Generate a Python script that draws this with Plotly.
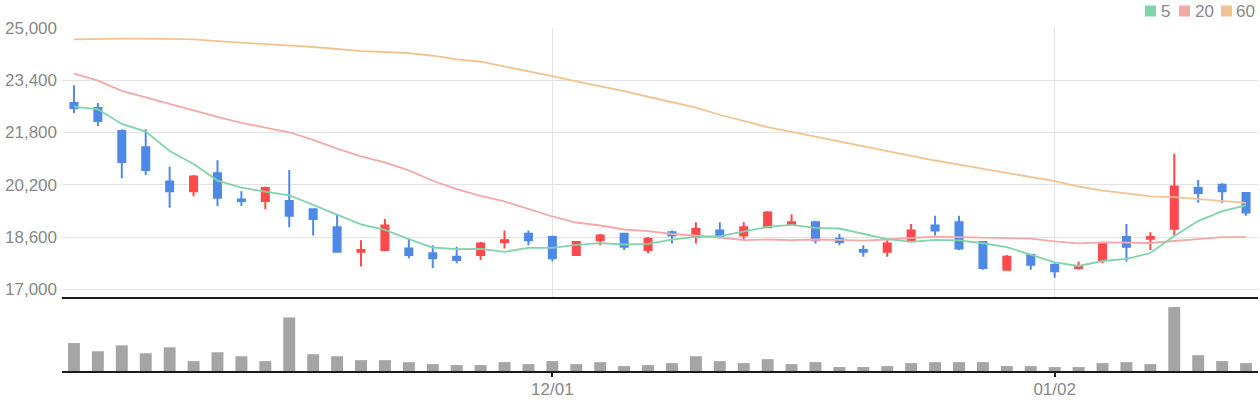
import plotly.graph_objects as go

# ---------------- data ----------------
dates = [
    "2022-11-03", "2022-11-04", "2022-11-07", "2022-11-08", "2022-11-09", "2022-11-10", "2022-11-11",
    "2022-11-14", "2022-11-15", "2022-11-16", "2022-11-17", "2022-11-18", "2022-11-21", "2022-11-22",
    "2022-11-23", "2022-11-24", "2022-11-25", "2022-11-28", "2022-11-29", "2022-11-30",
    "2022-12-01", "2022-12-02", "2022-12-05", "2022-12-06", "2022-12-07", "2022-12-08", "2022-12-09",
    "2022-12-12", "2022-12-13", "2022-12-14", "2022-12-15", "2022-12-16", "2022-12-19", "2022-12-20",
    "2022-12-21", "2022-12-22", "2022-12-23", "2022-12-26", "2022-12-27", "2022-12-28", "2022-12-29",
    "2023-01-02", "2023-01-03", "2023-01-04", "2023-01-05", "2023-01-06", "2023-01-09", "2023-01-10",
    "2023-01-11", "2023-01-12",
]

opens = [22700, 22550, 21850, 21350, 20300, 20000, 20550, 19750, 19700, 19700,
         19450, 18900, 18150, 18200, 18250, 18100, 18000, 18050, 18450, 18700,
         18600, 18050, 18500, 18700, 18200, 18750, 18600, 18800, 18650, 18900,
         19000, 19050, 18550, 18200, 18150, 18500, 18950, 19050, 18450, 17600,
         18050, 17750, 17650, 17900, 18600, 18550, 18850, 20100, 20200, 19950]
highs = [23250, 22700, 21900, 21900, 20750, 20500, 20950, 20000, 20150, 20650,
         19450, 19300, 18500, 19150, 18550, 18350, 18300, 18450, 18800, 18800,
         18650, 18450, 18700, 18700, 18600, 18800, 19050, 19050, 19050, 19400,
         19300, 19100, 18700, 18350, 18500, 19000, 19250, 19250, 18450, 18050,
         18050, 17800, 17850, 18450, 19000, 18750, 21150, 20350, 20250, 19950]
lows = [22400, 22000, 20400, 20500, 19500, 19850, 19550, 19550, 19450, 18900,
        18650, 18150, 17700, 18200, 17950, 17650, 17800, 17900, 18250, 18350,
        17850, 18050, 18350, 18200, 18100, 18400, 18400, 18550, 18500, 18900,
        18950, 18400, 18350, 18000, 18000, 18500, 18650, 18200, 17600, 17600,
        17600, 17350, 17600, 17800, 17850, 18200, 18650, 19650, 19650, 19250]
closes = [22550, 22150, 20900, 20650, 20000, 20450, 19800, 19700, 20100, 19250,
          19150, 18150, 18200, 18950, 18050, 17950, 17900, 18400, 18500, 18500,
          17950, 18450, 18650, 18300, 18550, 18650, 18850, 18600, 18900, 19350,
          19050, 18500, 18450, 18150, 18400, 18800, 18800, 18250, 17650, 18000,
          17750, 17550, 17700, 18400, 18300, 18600, 20150, 19950, 20000, 19350]

volumes = [85000, 60000, 78000, 54000, 72000, 30000, 57000, 45000, 30000, 163000,
           51000, 45000, 33000, 33000, 27000, 21000, 18000, 18000, 27000, 21000,
           30000, 21000, 27000, 15000, 18000, 24000, 45000, 30000, 24000, 36000,
           21000, 27000, 12000, 12000, 15000, 24000, 27000, 27000, 27000, 15000,
           15000, 12000, 12000, 24000, 27000, 21000, 195000, 48000, 30000, 24000]

ma5 = [22594, 22512, 22063, 21828, 21236, 20838, 20328, 20113, 19991, 19879,
       19583, 19276, 18990, 18820, 18534, 18279, 18228, 18238, 18146, 18268,
       18268, 18360, 18411, 18371, 18391, 18520, 18606, 18626, 18769, 18912,
       18974, 18882, 18861, 18698, 18534, 18452, 18514, 18500, 18410, 18294,
       18060, 17826, 17714, 17866, 17928, 18111, 18631, 19089, 19395, 19568]
ma20 = [23604, 23390, 23073, 22869, 22665, 22471, 22277, 22094, 21951, 21808,
        21573, 21308, 21071, 20885, 20639, 20323, 20067, 19863, 19689, 19464,
        19229, 19045, 18953, 18831, 18779, 18693, 18636, 18585, 18503, 18524,
        18503, 18524, 18514, 18493, 18524, 18575, 18613, 18597, 18580, 18549,
        18549, 18468, 18407, 18437, 18417, 18417, 18478, 18539, 18600, 18600]
ma60 = [24651, 24669, 24672, 24672, 24669, 24651, 24596, 24556, 24519, 24473,
        24418, 24357, 24295, 24265, 24228, 24151, 24038, 23967, 23823, 23673,
        23523, 23367, 23226, 23070, 22895, 22730, 22561, 22344, 22150, 21964,
        21820, 21672, 21528, 21384, 21216, 21078, 20943, 20815, 20689, 20563,
        20438, 20309, 20147, 20024, 19935, 19843, 19822, 19761, 19708, 19647]

price_ticks = [17000, 18600, 20200, 21800, 23400, 25000]
x_tick_dates = ["2022-12-01", "2023-01-02"]
x_tick_labels = ["12/01", "01/02"]
legend_names = ["5", "20", "60"]

# ---------------- style ----------------
MA_COLORS = ["#80d4a9", "#f3a9a8", "#f1c390"]
UP = "#ff4a4d"
DOWN = "#4f89e6"
GRID = "#e3e3e3"
TXT = "#888888"
AXIS = "#1a1a1a"
FONT = "Liberation Sans, Arial, sans-serif"

fig = go.Figure()

for vals, col in zip([ma60, ma20, ma5], [MA_COLORS[2], MA_COLORS[1], MA_COLORS[0]]):
    fig.add_trace(go.Scatter(x=dates, y=vals, mode="lines",
                             line=dict(color=col, width=1.8),
                             showlegend=False, hoverinfo="skip",
                             xaxis="x", yaxis="y"))

fig.add_trace(go.Candlestick(
    x=dates, open=opens, high=highs, low=lows, close=closes,
    increasing=dict(line=dict(color=UP, width=2), fillcolor=UP),
    decreasing=dict(line=dict(color=DOWN, width=2), fillcolor=DOWN),
    whiskerwidth=0, showlegend=False, xaxis="x", yaxis="y"))

fig.add_trace(go.Bar(x=dates, y=volumes, marker=dict(color="#a5a5a5", line=dict(width=0)),
                     showlegend=False, xaxis="x2", yaxis="y2"))

PLOT_TOP, PLOT_BOTTOM, MAIN_BOTTOM = 28, 371, 297
H = 400
plot_h = PLOT_BOTTOM - PLOT_TOP
split = (PLOT_BOTTOM - MAIN_BOTTOM) / plot_h

fig.update_layout(
    width=1260, height=H,
    margin=dict(l=62, r=2, t=PLOT_TOP, b=H - PLOT_BOTTOM, pad=0, autoexpand=False),
    paper_bgcolor="white", plot_bgcolor="white",
    font=dict(family=FONT, size=17, color=TXT),
    boxgap=0.58, bargap=0.5,
    hovermode=False,
    xaxis=dict(domain=[0, 1], anchor="y", type="category", automargin=False,
               categoryorder="array", categoryarray=dates,
               range=[-0.5, len(dates) - 0.5],
               tickvals=x_tick_dates, showticklabels=False, ticks="",
               showgrid=True, gridcolor=GRID, gridwidth=1,
               showline=True, linecolor=AXIS, linewidth=2,
               zeroline=False, rangeslider=dict(visible=False)),
    yaxis=dict(domain=[split, 1], anchor="x", automargin=False,
               range=[16764, 25000], tickvals=price_ticks, tickformat=",",
               showgrid=True, gridcolor=GRID, gridwidth=1, zeroline=False,
               showline=False, ticks="", ticklabelstandoff=4,
               tickfont=dict(size=17, color=TXT)),
    xaxis2=dict(domain=[0, 1], anchor="y2", type="category", matches="x", automargin=False,
                categoryorder="array", categoryarray=dates,
                tickvals=x_tick_dates, ticktext=x_tick_labels,
                ticks="outside", ticklen=4, tickwidth=2, tickcolor=AXIS,
                ticklabelstandoff=-2,
                showgrid=False, showline=True, linecolor=AXIS, linewidth=2,
                zeroline=False, tickfont=dict(size=17, color=TXT),
                rangeslider=dict(visible=False)),
    yaxis2=dict(domain=[0, split - 0.003], anchor="x2", range=[0, 222000], automargin=False,
                showgrid=False, showticklabels=False, zeroline=False,
                showline=False, ticks=""),
)

# legend (squares + text) at top-right
right_px = 1258
square_left = [1145, 1179, 1221]
text_left = [1160, 1194, 1235]
for name, col, sl, tl in zip(legend_names, MA_COLORS, square_left, text_left):
    fig.add_shape(type="rect", xref="paper", yref="paper",
                  xsizemode="pixel", ysizemode="pixel",
                  xanchor=1, yanchor=1,
                  x0=sl - right_px, x1=sl + 11 - right_px,
                  y0=PLOT_TOP - 16.5, y1=PLOT_TOP - 5.5,
                  fillcolor=col, line=dict(width=0))
    fig.add_annotation(text=name, xref="paper", yref="paper", x=1, y=1,
                       xanchor="left", yanchor="middle",
                       xshift=tl - right_px - 1, yshift=PLOT_TOP - 11,
                       showarrow=False, font=dict(size=17, color=TXT, family=FONT))

fig.write_html("out.html", config={"displayModeBar": False},
               post_script="document.body.style.margin='0';document.body.style.overflow='hidden';")
